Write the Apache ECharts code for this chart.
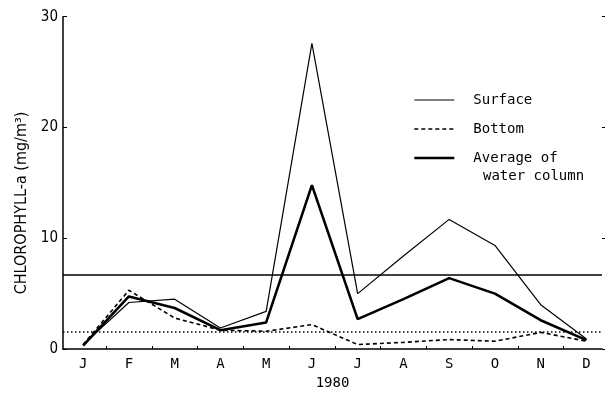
<!DOCTYPE html>
<html>
<head>
<meta charset="utf-8">
<script src="https://cdn.jsdelivr.net/npm/echarts@6/dist/echarts.min.js"></script>
<style>html,body{margin:0;padding:0;background:#fff;}#c{width:606px;height:395px;}</style>
</head>
<body>
<div id="c"></div>
<script>
const months = ['J','F','M','A','M','J','J','A','S','O','N','D'];
const surface = [0.4, 4.2, 4.5, 1.9, 3.4, 27.6, 5.0, 8.4, 11.7, 9.35, 4.0, 0.9];
const bottom  = [0.4, 5.3, 2.8, 1.7, 1.6, 2.2, 0.4, 0.6, 0.85, 0.7, 1.5, 0.7];
const average = [0.3, 4.75, 3.7, 1.7, 2.4, 14.8, 2.7, 4.5, 6.4, 5.0, 2.6, 0.8];
const surfaceMeanLevel = 6.74;
const bottomMeanLevel = 1.56;
const yTicks = [0, 10, 20, 30];
const xTitle = '1980';
const yTitle = 'CHLOROPHYLL-a (mg/m³)';

const toPts = arr => arr.map((v, i) => [i, v]);
const mono = "'DejaVu Sans Mono', 'Liberation Mono', monospace";
const sans = "'Liberation Sans Narrow', 'DejaVu Sans Condensed', 'Liberation Sans', sans-serif";

const chart = echarts.init(document.getElementById('c'), null, {renderer: 'canvas'});
chart.setOption({
  animation: false,
  backgroundColor: '#fff',
  color: ['#000', '#000', '#000'],
  grid: {left: 63, right: 4, top: 16.7, bottom: 41.5, containLabel: false},
  xAxis: {
    type: 'value', min: -0.44, max: 11.34,
    name: xTitle, nameLocation: 'middle', nameGap: 27,
    nameTextStyle: {fontFamily: mono, fontSize: 14, color: '#000'},
    axisLine: {show: true, onZero: false, lineStyle: {color: '#000', width: 1.5}},
    splitLine: {show: false},
    axisTick: {show: true, inside: true, length: 3, lineStyle: {color: '#000'},
      customValues: months.slice(1).map((m, i) => i + 0.5)},
    axisLabel: {
      customValues: months.map((m, i) => i),
      formatter: v => months[Math.round(v)],
      fontFamily: mono, fontSize: 14, color: '#000', margin: 8
    }
  },
  yAxis: [{
    type: 'value', min: 0, max: 30, interval: 10,
    axisLine: {show: true, onZero: false, lineStyle: {color: '#000', width: 1.5}},
    splitLine: {show: false},
    axisTick: {show: true, inside: true, length: 4, lineStyle: {color: '#000'}},
    axisLabel: {fontFamily: sans, fontSize: 15, color: '#000', margin: 5,
      customValues: yTicks}
  }, {
    type: 'value', min: 0, max: 30, interval: 10, position: 'right',
    axisLine: {show: false, onZero: false}, splitLine: {show: false},
    axisTick: {show: true, inside: false, length: 3, lineStyle: {color: '#000'}},
    axisLabel: {show: false}
  }],
  legend: {
    orient: 'vertical', left: 408, top: 88,
    itemWidth: 40, itemHeight: 14, itemGap: 15,
    itemStyle: {opacity: 0},
    textStyle: {fontFamily: mono, fontSize: 14, color: '#000', padding: [0, 0, 0, 14]},
    formatter: n => n === 'Average of water column' ? 'Average of' : n,
    data: [
      {name: 'Surface', lineStyle: {width: 1}},
      {name: 'Bottom', lineStyle: {width: 1.4}},
      {name: 'Average of water column', lineStyle: {width: 2.6}}
    ]
  },
  graphic: [
    {type: 'text', left: 483, top: 169, style: {text: 'water column', font: '14px ' + mono, fill: '#000'}},
    {type: 'text', x: 22, y: 203, rotation: Math.PI / 2,
      style: {text: yTitle, font: '16px ' + sans, fill: '#000', align: 'center', verticalAlign: 'middle'}}
  ],
  series: [
    {name: 'Surface', type: 'line', data: toPts(surface), symbol: 'none',
      itemStyle: {color: '#000'},
      lineStyle: {color: '#000', width: 1.2},
      markLine: {silent: true, symbol: 'none', label: {show: false},
        lineStyle: {color: '#000', width: 1.5, type: 'solid'},
        data: [{yAxis: surfaceMeanLevel}]}},
    {name: 'Bottom', type: 'line', data: toPts(bottom), symbol: 'none',
      itemStyle: {color: '#000'},
      lineStyle: {color: '#000', width: 1.6, type: [4, 3]},
      markLine: {silent: true, symbol: 'none', label: {show: false},
        lineStyle: {color: '#000', width: 1.5, type: [1.5, 2.5]},
        data: [{yAxis: bottomMeanLevel}]}},
    {name: 'Average of water column', type: 'line', data: toPts(average), symbol: 'none',
      itemStyle: {color: '#000'},
      lineStyle: {color: '#000', width: 2.6}}
  ]
});
</script>
</body>
</html>
